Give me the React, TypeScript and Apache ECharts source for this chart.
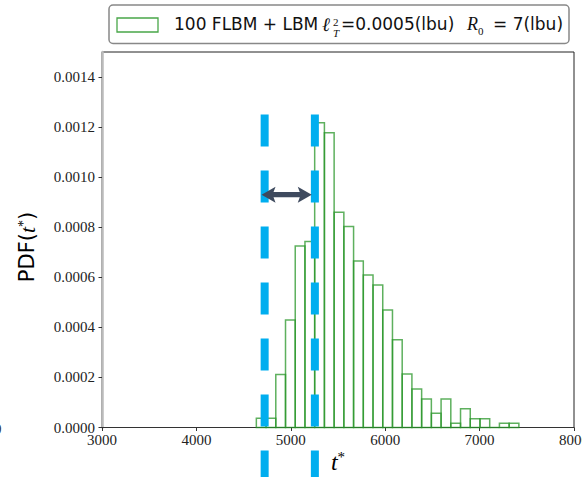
import React, { useEffect, useRef } from "react";
import * as echarts from "echarts";

// Histogram data (PDF of t*)
const binStart = 4635;
const binWidth = 103;
const pdfValues = [
  0.000037, 0.000037, 0.000212, 0.000429, 0.000725, 0.000743, 0.001217, 0.001177,
  0.00086, 0.000803, 0.000665, 0.000609, 0.000569, 0.000469, 0.000351, 0.000214,
  0.000154, 0.000114, 0.000057, 0.000114, 0.000017, 0.000075, 0.000035, 0.000035,
  0, 0.000017, 0.000017,
];
// Blue dashed marker positions (t*)
const markerX = [4723, 5255];
const markerTop = 0.00125;
// Double arrow between markers: [from, to, y]
const arrowData = [[4690, 5222, 0.00093]];
const yTicks = [0, 0.0002, 0.0004, 0.0006, 0.0008, 0.001, 0.0012, 0.0014];
const xTicks = [3000, 4000, 5000, 6000, 7000, 8000];

const SERIF = "'Liberation Serif', 'DejaVu Serif', serif";
const SANS = "'DejaVu Sans', 'Liberation Sans', sans-serif";

export default function App() {
  const ref = useRef<HTMLDivElement>(null);
  useEffect(() => {
    if (!ref.current) return;
    const chart = echarts.init(ref.current, null, { renderer: "svg" });
    const histData = pdfValues.map((v, i) => [
      binStart + i * binWidth,
      binStart + (i + 1) * binWidth,
      v,
    ]);
    const txt = (x: number, y: number, text: string, font: string) => ({
      type: "text",
      x,
      y,
      style: { text, font, fill: "#111", verticalAlign: "middle" },
      z: 11,
    });
    chart.setOption({
      animation: false,
      backgroundColor: "#fff",
      grid: {
        left: 102,
        right: 8,
        top: 52,
        bottom: 49.5,
        show: true,
        borderColor: "#222",
        borderWidth: 1,
        outerBoundsMode: "none",
        containLabel: false,
      },
      xAxis: {
        type: "value",
        min: 3000,
        max: 8000,
        interval: 1000,
        splitLine: { show: false },
        axisLine: { show: true, lineStyle: { color: "#333", width: 1.2 } },
        axisTick: { show: true, length: 3.5, lineStyle: { color: "#333" }, customValues: xTicks },
        axisLabel: {
          customValues: xTicks,
          formatter: (v: number) => String(Math.round(v)),
          fontFamily: SERIF,
          fontSize: 15,
          color: "#222",
          margin: 5,
          hideOverlap: false,
        },
      },
      yAxis: {
        type: "value",
        min: 0,
        max: 0.0015,
        interval: 0.0002,
        splitLine: { show: false },
        axisLine: { show: true, onZero: false, lineStyle: { color: "#bbb", width: 2.5 } },
        axisTick: { show: true, length: 3.5, lineStyle: { color: "#333" }, customValues: yTicks },
        axisLabel: {
          customValues: yTicks,
          formatter: (v: number) => v.toFixed(4),
          fontFamily: SERIF,
          fontSize: 15,
          color: "#222",
          margin: 7,
        },
      },
      series: [
        {
          type: "custom",
          data: histData,
          encode: { x: [0, 1], y: 2 },
          renderItem: (params: any, api: any) => {
            const p0 = api.coord([api.value(0), 0]);
            const p1 = api.coord([api.value(1), api.value(2)]);
            return {
              type: "rect",
              shape: {
                x: p0[0],
                y: p1[1],
                width: p1[0] - p0[0],
                height: p0[1] - p1[1],
              },
              style: { fill: "none", stroke: "rgba(40,150,40,0.75)", lineWidth: 1.5 },
            };
          },
          z: 2,
        },
        {
          type: "custom",
          data: markerX.map((x) => [x, markerTop]),
          encode: { x: 0, y: 1 },
          clip: false,
          renderItem: (params: any, api: any) => {
            const p = api.coord([api.value(0), api.value(1)]);
            return {
              type: "line",
              shape: { x1: p[0], y1: p[1], x2: p[0], y2: api.getHeight() },
              style: { stroke: "#00AEEF", lineWidth: 8, lineDash: [32, 24], lineCap: "butt" },
            };
          },
          z: 3,
        },
        {
          type: "custom",
          data: arrowData,
          encode: { x: [0, 1], y: 2 },
          clip: false,
          renderItem: (params: any, api: any) => {
            const a = api.coord([api.value(0), api.value(2)]);
            const b = api.coord([api.value(1), api.value(2)]);
            const y = a[1];
            const xl = a[0];
            const xr = b[0];
            const hl = 14;
            const hh = 8;
            const st = 2.6;
            return {
              type: "polygon",
              shape: {
                points: [
                  [xl, y],
                  [xl + hl, y - hh],
                  [xl + hl - 2, y - st],
                  [xr - hl + 2, y - st],
                  [xr - hl, y - hh],
                  [xr, y],
                  [xr - hl, y + hh],
                  [xr - hl + 2, y + st],
                  [xl + hl - 2, y + st],
                  [xl + hl, y + hh],
                ],
              },
              style: { fill: "#3E4A5E", stroke: "none" },
            };
          },
          z: 4,
        },
      ],
      graphic: [
        // Legend box
        {
          type: "rect",
          shape: { x: 109, y: 5, width: 460, height: 38.5, r: 4 },
          style: { fill: "#fff", stroke: "#888", lineWidth: 1.5 },
          z: 10,
        },
        {
          type: "rect",
          shape: { x: 117, y: 18, width: 41, height: 14 },
          style: { fill: "#fff", stroke: "rgba(40,150,40,0.85)", lineWidth: 1.3 },
          z: 11,
        },
        txt(174, 24, "100 FLBM + LBM", `17px ${SANS}`),
        txt(322, 24.5, "ℓ", `italic 19px ${SERIF}`),
        txt(333, 21.5, "2", `11px ${SERIF}`),
        txt(333, 33, "T", `italic 11px ${SERIF}`),
        txt(341, 24, "=0.0005(lbu)", `17px ${SANS}`),
        txt(467, 24, "R", `italic 18px ${SERIF}`),
        txt(478, 31, "0", `11px ${SERIF}`),
        txt(493, 24, "= 7(lbu)", `17px ${SANS}`),
        // Y axis title
        {
          type: "text",
          x: 27,
          y: 247,
          rotation: Math.PI / 2,
          style: {
            text: "{a|PDF(}{b|t}{c|*}{a|)}",
            align: "center",
            verticalAlign: "middle",
            rich: {
              a: { fontFamily: SANS, fontSize: 21, color: "#111" },
              b: { fontFamily: SERIF, fontStyle: "italic", fontSize: 22, color: "#111" },
              c: { fontFamily: SERIF, fontSize: 14, color: "#111", padding: [0, 0, 8, 0] },
            },
          },
          z: 11,
        },
        // X axis title
        {
          type: "text",
          x: 338,
          y: 462,
          style: {
            text: "{b|t}{c|*}",
            align: "center",
            verticalAlign: "middle",
            rich: {
              b: { fontFamily: SERIF, fontStyle: "italic", fontSize: 24, color: "#111" },
              c: { fontFamily: SERIF, fontSize: 15, color: "#111", padding: [0, 0, 10, 0] },
            },
          },
          z: 11,
        },
        // clipped fragment of neighbouring label
        {
          type: "text",
          x: -6,
          y: 429,
          style: { text: "0", font: `15px ${SERIF}`, fill: "#333", verticalAlign: "middle" },
          z: 11,
        },
      ],
    });
    return () => chart.dispose();
  }, []);
  return <div ref={ref} style={{ width: 582, height: 477, position: "absolute", left: 0, top: 0 }} />;
}
